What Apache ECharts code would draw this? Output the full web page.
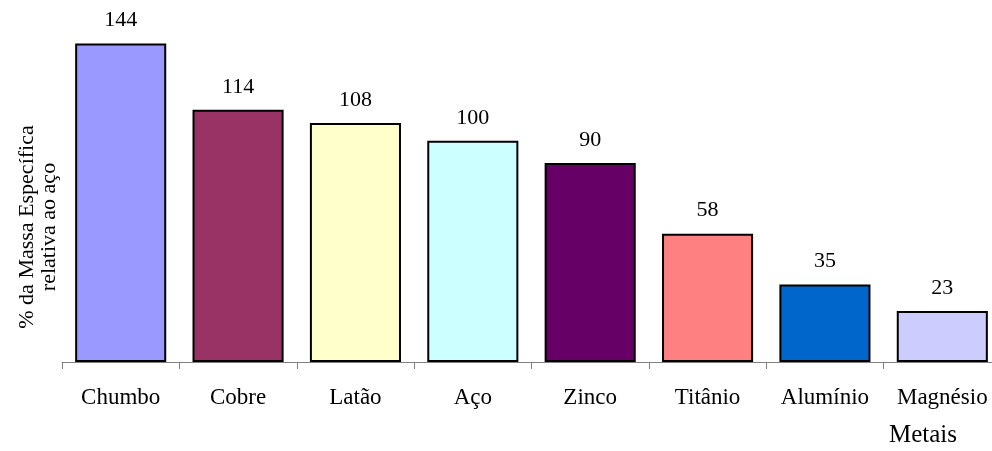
<!DOCTYPE html>
<html>
<head>
<meta charset="utf-8">
<script src="https://cdn.jsdelivr.net/npm/echarts@6/dist/echarts.min.js"></script>
<style>
  html, body { margin: 0; padding: 0; background: #fff; }
  #chart { width: 992px; height: 451px; }
</style>
</head>
<body>
<div id="chart"></div>
<script>
// Densidade de cada metal em % da massa específica do aço
const metais = ['Chumbo', 'Cobre', 'Latão', 'Aço', 'Zinco', 'Titânio', 'Alumínio', 'Magnésio'];
const percentuais = [144, 114, 108, 100, 90, 58, 35, 23];
const cores = ['#9999FF', '#993366', '#FFFFCC', '#CCFFFF', '#660066', '#FF8080', '#0066CC', '#CCCCFF'];

const fonte = 'Liberation Serif, Times New Roman, serif';

const chart = echarts.init(document.getElementById('chart'));
chart.setOption({
  animation: false,
  backgroundColor: '#fff',
  grid: { left: 62, right: -9, top: 8, bottom: 89, outerBoundsMode: 'none', containLabel: false },
  xAxis: {
    type: 'category',
    data: metais,
    name: 'Metais',
    nameLocation: 'end',
    nameGap: 0,
    nameTextStyle: {
      fontFamily: fonte, fontSize: 25, color: '#000',
      align: 'right', verticalAlign: 'top',
      padding: [61, 44, 0, 0]
    },
    axisLine: { lineStyle: { color: '#808080', width: 1 } },
    axisTick: { show: true, length: 7, lineStyle: { color: '#808080' } },
    axisLabel: { fontFamily: fonte, fontSize: 23, color: '#000', margin: 24, interval: 0 }
  },
  yAxis: {
    type: 'value',
    min: 0,
    max: 160,
    name: '% da Massa Específica\nrelativa ao aço',
    nameLocation: 'middle',
    nameRotate: 90,
    nameGap: 2,
    nameTextStyle: {
      fontFamily: fonte, fontSize: 22, color: '#000', lineHeight: 22,
      padding: [0, 84, 0, 0]
    },
    axisLine: { show: false },
    axisTick: { show: false },
    axisLabel: { show: false },
    splitLine: { show: false }
  },
  series: [{
    type: 'bar',
    data: percentuais.map((v, i) => ({ value: v, itemStyle: { color: cores[i] } })),
    barCategoryGap: '22.4%',
    itemStyle: { borderColor: '#000', borderWidth: 2 },
    label: {
      show: true, position: 'top', distance: 12,
      fontFamily: fonte, fontSize: 22, color: '#000'
    }
  }]
});
</script>
</body>
</html>
